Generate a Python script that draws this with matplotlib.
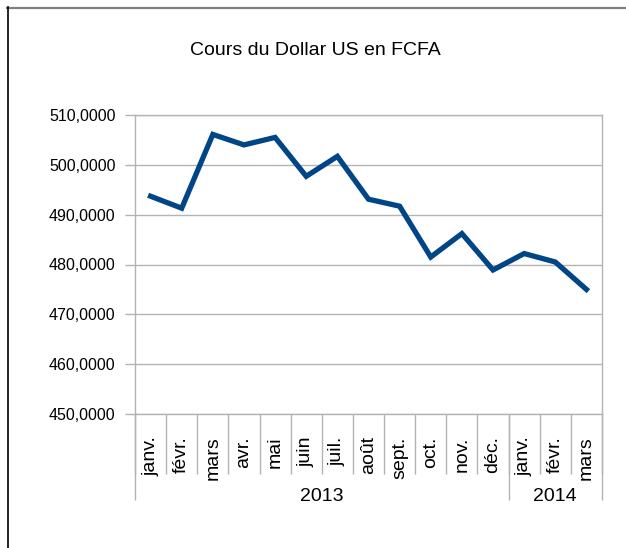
import matplotlib.pyplot as plt
from matplotlib.lines import Line2D
from matplotlib.ticker import FuncFormatter
import matplotlib.transforms as mtransforms

plt.rcParams['font.family'] = ['Liberation Sans', 'DejaVu Sans']

# monthly rate of the US dollar in FCFA, jan 2013 - mar 2014
months = ['janv.', 'févr.', 'mars', 'avr.', 'mai', 'juin', 'juil.', 'août',
          'sept.', 'oct.', 'nov.', 'déc.', 'janv.', 'févr.', 'mars']
years = ['2013', '2014']
year_counts = [12, 3]
rate = [493.7, 491.3, 506.1, 504.0, 505.5, 497.7, 501.7, 493.1,
        491.7, 481.5, 486.2, 478.9, 482.2, 480.5, 475.0]

grid_col = '#b3b3b3'

fig = plt.figure(figsize=(6.26, 5.48), dpi=100)
ax = fig.add_axes([135 / 626, 1 - 414 / 548, (602 - 135) / 626, (414 - 115) / 548])

x = list(range(len(months)))
ax.plot(x, rate, color='#004586', lw=3.8, solid_joinstyle='miter', zorder=3)

ax.set_xlim(-0.5, len(months) - 0.5)
ax.set_ylim(450, 510)
ax.set_yticks(range(450, 511, 10))
ax.yaxis.set_major_formatter(FuncFormatter(lambda v, p: f'{v:.4f}'.replace('.', ',')))
ax.grid(axis='y', color=grid_col, lw=1)
ax.set_axisbelow(True)
for s in ax.spines.values():
    s.set_color(grid_col)
    s.set_linewidth(1)
ax.tick_params(axis='y', length=7, width=1, color=grid_col, pad=7, labelsize=11.5)

# month labels + separators
ax.set_xticks(x)
ax.set_xticklabels(months, rotation=90, fontsize=14)
ax.set_xticks([i - 0.5 for i in range(len(months) + 1)], minor=True)
ax.tick_params(axis='x', which='major', length=0, pad=16)
ax.tick_params(axis='x', which='minor', length=43, width=1, color=grid_col)

# year level
trans = mtransforms.blended_transform_factory(ax.transData, ax.transAxes)
start = -0.5
bounds = [start]
for name, n in zip(years, year_counts):
    ax.text(start + n / 2, -0.276, name, transform=trans, ha='center', va='center',
            fontsize=14)
    start += n
    bounds.append(start)
ax.vlines(bounds, -0.288, 0, transform=trans, colors=grid_col, lw=1, clip_on=False)

fig.text(315 / 626, 1 - 50 / 548, 'Cours du Dollar US en FCFA', ha='center', va='center',
         fontsize=14)

# outer frame
fig.add_artist(Line2D([7 / 626, 1], [1 - 7.5 / 548] * 2, color='#808080', lw=1.6))
fig.add_artist(Line2D([7.5 / 626] * 2, [0, 1 - 7 / 548], color='black', lw=1.2))

fig.savefig('out.png', dpi=100)
